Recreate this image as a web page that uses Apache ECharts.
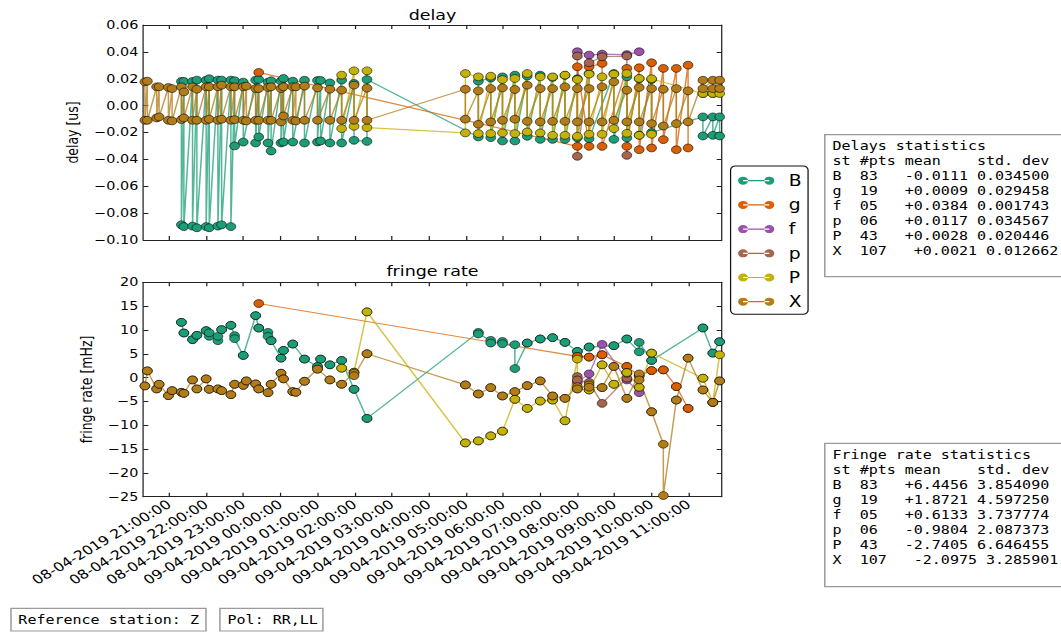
<!DOCTYPE html>
<html><head><meta charset="utf-8">
<script src="https://cdn.jsdelivr.net/npm/echarts@6/dist/echarts.min.js"></script>
<style>
html,body{margin:0;padding:0;background:#fff;overflow:hidden;}
#wrap{width:1061px;height:634px;overflow:hidden;position:relative;}
#chart{width:849px;height:634px;transform:scaleX(1.249706);transform-origin:0 0;}
</style></head><body><div id="wrap"><div id="chart"></div></div>
<script>
// ---------------- data (times HH:MM, 08-04-2019 evening -> 09-04-2019 morning) ----------------
const stationNames = ['B','g','f','p','P','X'];
const stationColors = ['#1b9e77','#d95f02','#9c52aa','#a6654f','#c4b208','#b27c18'];

const xTickValues = [21,22,23,24,25,26,27,28,29,30,31,32,33,34,35];
const xTickLabels = ['08-04-2019 21:00:00','08-04-2019 22:00:00','08-04-2019 23:00:00',
  '09-04-2019 00:00:00','09-04-2019 01:00:00','09-04-2019 02:00:00','09-04-2019 03:00:00',
  '09-04-2019 04:00:00','09-04-2019 05:00:00','09-04-2019 06:00:00','09-04-2019 07:00:00',
  '09-04-2019 08:00:00','09-04-2019 09:00:00','09-04-2019 10:00:00','09-04-2019 11:00:00'];
const X_MIN = 20.308, X_MAX = 35.889;

// B  (pol A / pol B, in plotting order)
const B_time = ['21:20','21:24','21:38','21:45','22:00','22:05','22:19','22:25','22:40','22:46','23:00','23:20','23:25','23:40','23:45','00:01','00:05','00:20','00:39','01:00','01:05','01:20','01:39','01:59','02:20','05:20','05:40','05:59','06:19','06:39','07:00','07:20','07:40','08:00','08:19','08:59','09:20','09:40','10:00','11:23','11:39','11:50'];
const B_delayA = [0.0180,0.0180,0.0180,0.0190,0.0189,0.0200,0.0190,0.0190,0.0190,0.0185,0.0175,0.0190,0.0195,0.0175,0.0185,0.0182,0.0202,0.0182,0.0189,0.0187,0.0187,0.0169,0.0190,0.0165,-0.0266,-0.0233,0.0205,0.0214,0.0227,0.0220,0.0227,0.0210,0.0225,0.0200,0.0239,0.0239,0.0214,0.0200,0.0194,-0.0084,-0.0084,-0.0084];
const B_delayB = [-0.0887,-0.0900,-0.0897,-0.0909,-0.0900,-0.0909,-0.0897,-0.0887,-0.0900,-0.0300,-0.0271,-0.0278,-0.0233,-0.0278,-0.0338,-0.0278,-0.0271,-0.0271,-0.0278,-0.0271,-0.0263,-0.0278,-0.0278,-0.0258,0.0194,0.0182,-0.0238,-0.0263,-0.0263,-0.0228,-0.0251,-0.0251,-0.0251,-0.0240,-0.0246,-0.0251,-0.0240,-0.0220,-0.0200,-0.0226,-0.0221,-0.0226];
const B_rateA = [11.60,9.36,7.96,8.87,9.85,8.66,7.74,10.06,10.98,8.80,4.65,13.00,10.40,9.50,7.74,4.09,5.70,7.04,3.88,2.33,3.88,2.68,3.59,-2.45,-8.57,9.50,7.81,7.60,6.90,7.25,8.10,8.38,7.39,5.49,6.41,6.69,8.10,5.42,3.59,10.42,5.14,7.53];
const B_rateB = [11.60,9.36,7.96,8.87,9.85,9.40,8.66,10.06,10.98,8.17,4.65,13.00,10.40,8.66,7.74,4.09,5.70,7.04,3.88,2.33,3.88,2.68,3.59,-2.45,-8.57,9.15,7.25,7.10,1.90,7.25,8.10,8.38,7.39,5.49,6.41,6.69,8.10,7.39,3.59,10.42,5.14,7.53];

// g
const g_time = ['23:25','08:00','08:19','08:40','09:20','09:40','10:00','10:19','10:40','10:59'];
const g_delayA = [0.0247,-0.0303,-0.0303,0.0314,0.0277,0.0282,0.0319,0.0277,0.0277,0.0301];
const g_delayB = [null,0.0289,0.0289,-0.0303,-0.0303,-0.0328,-0.0315,-0.0253,-0.0328,-0.0315];
const g_rateA = [15.55,4.44,4.30,4.79,2.33,0.36,1.48,1.62,-1.89,-6.46];
const g_rateB = [null,4.44,4.30,4.79,2.33,0.36,1.48,1.62,-1.89,-6.46];

// f
const f_time = ['08:00','08:19','08:40','09:20','09:40'];
const f_delay = [0.0401,0.0376,0.0383,0.0380,0.0401];
const f_rate = [-1.00,0.78,6.97,-0.50,-3.16];

// p
const p_time = ['08:00','08:19','08:40','09:20'];
const p_delayA = [0.0369,0.0319,0.0364,0.0369];
const p_delayB = [-0.0377,null,null,-0.0370];
const p_rateA = [0.22,-1.00,-5.41,-0.13];
const p_rateB = [-0.50,null,null,0.90];

// P
const P_time = ['01:39','01:59','02:20','04:59','05:20','05:40','05:59','06:19','06:39','07:00','07:20','07:40','08:00','08:19','08:40','08:59','09:20','09:40','10:00','11:23','11:39','11:50'];
const P_delayA = [0.0227,0.0259,0.0259,-0.0203,0.0214,0.0219,0.0194,0.0202,0.0239,0.0214,0.0214,0.0227,0.0194,0.0234,0.0214,0.0234,0.0239,0.0202,-0.0213,0.0090,0.0090,0.0090];
const P_delayB = [-0.0171,-0.0154,-0.0164,0.0239,-0.0208,-0.0208,-0.0203,-0.0208,-0.0196,-0.0203,-0.0221,-0.0221,-0.0228,-0.0213,-0.0213,-0.0171,-0.0206,-0.0221,0.0200,0.0090,0.0090,null];
const P_rateA = [1.98,1.13,13.79,-13.71,-13.29,-12.23,-11.25,-4.56,-6.46,-4.92,-4.71,-9.07,3.88,-2.60,2.68,-1.40,1.06,-2.03,5.14,-0.13,-5.20,4.79];
const P_rateB = [1.98,1.13,13.79,-13.71,-13.29,-12.23,-11.25,-4.56,-6.46,-4.92,-4.71,-9.07,-2.38,-2.60,2.68,-1.40,1.06,-2.03,5.14,-0.13,-5.20,null];

// X
const X_time = ['20:21','20:25','20:40','20:44','20:59','21:05','21:20','21:24','21:38','21:45','22:00','22:05','22:19','22:25','22:40','22:46','23:00','23:05','23:20','23:25','23:40','23:45','00:01','00:05','00:20','00:25','00:39','01:00','01:20','01:39','01:59','02:20','04:59','05:20','05:40','05:59','06:19','06:39','07:00','07:20','07:40','08:00','08:19','08:40','08:59','09:20','09:40','10:00','10:19','10:40','10:59','11:23','11:39','11:50'];
const X_delayA = [0.0177,0.0182,0.0140,0.0140,0.0135,0.0127,0.0140,0.0102,0.0140,0.0122,0.0140,0.0140,0.0140,0.0152,0.0140,0.0140,0.0140,0.0145,0.0127,0.0127,0.0135,0.0140,0.0127,0.0140,0.0140,0.0140,0.0145,0.0132,0.0122,0.0115,0.0152,0.0130,0.0122,0.0110,0.0127,0.0132,0.0120,0.0152,0.0127,0.0127,0.0140,0.0127,0.0127,0.0140,0.0177,0.0115,0.0135,0.0127,0.0122,0.0127,0.0110,0.0189,0.0189,0.0189];
const X_delayB = [-0.0109,-0.0109,-0.0092,-0.0084,-0.0109,-0.0114,-0.0104,-0.0092,-0.0109,-0.0109,-0.0109,-0.0101,-0.0109,-0.0101,-0.0109,-0.0104,-0.0109,-0.0114,-0.0109,-0.0109,-0.0109,-0.0109,-0.0121,-0.0077,-0.0109,-0.0114,-0.0109,-0.0109,-0.0109,-0.0109,-0.0109,-0.0109,-0.0101,-0.0139,-0.0121,-0.0109,-0.0101,-0.0117,-0.0121,-0.0117,-0.0117,-0.0121,-0.0121,-0.0121,-0.0109,-0.0121,-0.0121,-0.0134,-0.0152,-0.0134,-0.0121,0.0127,0.0127,0.0127];
const X_rateA = [-1.75,1.41,-2.38,-1.40,-3.79,-2.74,-3.09,-3.30,-0.49,-2.38,-0.27,-2.45,-2.38,-2.74,-3.59,-1.40,-1.63,-0.70,-1.33,-2.38,-3.16,-1.40,0.92,-0.27,-2.95,-3.09,-0.77,1.77,-0.49,-1.40,0.92,5.00,-1.54,-3.44,-2.10,-3.86,-2.95,-1.68,-0.70,-3.86,-4.35,-1.89,-1.54,-2.10,2.33,-4.35,0.78,-7.17,-13.99,-4.71,4.09,-2.60,-5.20,-0.70];
const X_rateB = [-1.75,1.41,-2.38,-1.40,-3.79,-2.74,-3.09,-3.30,-0.49,-2.38,-0.27,-2.45,-2.38,-2.74,-3.59,-1.40,-1.63,-0.70,-1.33,-2.38,-3.16,-1.40,0.92,-0.27,-2.95,-3.09,-0.77,1.77,-0.49,-1.40,0.40,5.00,-1.54,-3.44,-2.10,-3.86,-2.95,-1.68,-0.70,-3.86,-4.35,-2.38,-2.03,-2.10,2.33,-4.35,-0.49,-7.17,-24.75,-4.71,4.09,-2.60,-5.20,-0.70];

const delayStatsLines = ['Delays statistics','st #pts mean    std. dev','B  83   -0.0111 0.034500','g  19   +0.0009 0.029458','f  05   +0.0384 0.001743','p  06   +0.0117 0.034567','P  43   +0.0028 0.020446','X  107   +0.0021 0.012662'];
const rateStatsLines = ['Fringe rate statistics','st #pts mean    std. dev','B  83   +6.4456 3.854090','g  19   +1.8721 4.597250','f  05   +0.6133 3.737774','p  06   -0.9804 2.087373','P  43   -2.7405 6.646455','X  107   -2.0975 3.285901'];
const refStationText = 'Reference station: Z';
const polText = 'Pol: RR,LL';

// ---------------- build ----------------
function toHours(s){ const p=s.split(':').map(Number); return (p[0]>=12?p[0]:p[0]+24)+p[1]/60; }
function pts(times,a,b){ const out=[]; times.forEach((t,i)=>{ const h=toHours(t);
  if(a[i]!=null) out.push([h,a[i]]); if(b && b[i]!=null) out.push([h,b[i]]); }); return out; }

const stations = [
  {time:B_time,dA:B_delayA,dB:B_delayB,rA:B_rateA,rB:B_rateB},
  {time:g_time,dA:g_delayA,dB:g_delayB,rA:g_rateA,rB:g_rateB},
  {time:f_time,dA:f_delay,dB:null,rA:f_rate,rB:null},
  {time:p_time,dA:p_delayA,dB:p_delayB,rA:p_rateA,rB:p_rateB},
  {time:P_time,dA:P_delayA,dB:P_delayB,rA:P_rateA,rB:P_rateB},
  {time:X_time,dA:X_delayA,dB:X_delayB,rA:X_rateA,rB:X_rateB}
];

const FONT='DejaVu Sans', MONO='"DejaVu Sans Mono"', AX='#222';
const PL=114.7, PW=462.8;
const series=[];
stations.forEach((s,k)=>{
  const base = {name:stationNames[k], type:'line', symbol:'circle', symbolSize:7.8, showAllSymbol:true,
    color:stationColors[k],
    lineStyle:{color:stationColors[k], width:1.2, opacity:0.75},
    itemStyle:{color:stationColors[k], borderColor:'rgba(0,0,0,0.75)', borderWidth:0.7},
    emphasis:{disabled:true}, animation:false};
  series.push(Object.assign({}, base, {xAxisIndex:0, yAxisIndex:0, data:pts(s.time,s.dA,s.dB)}));
  series.push(Object.assign({}, base, {xAxisIndex:2, yAxisIndex:2, data:pts(s.time,s.rA,s.rB)}));
});

function xAx(grid,pos,labels){
  return {type:'value', gridIndex:grid, position:pos, min:X_MIN, max:X_MAX,
    axisLine:{show:true,onZero:false,lineStyle:{color:AX,width:1}},
    axisTick:{show:true,inside:true,length:4,customValues:xTickValues,lineStyle:{color:AX}},
    axisLabel: labels ? {show:true, customValues:xTickValues, rotate:36, margin:6, fontSize:12.6,
       fontFamily:FONT, color:'#000',
       formatter:(v)=>xTickLabels[xTickValues.indexOf(Math.round(v))]} : {show:false},
    splitLine:{show:false}};
}
function yAx(grid,pos,min,max,step,fmt,name,gap){
  return {type:'value', gridIndex:grid, position:pos, min:min, max:max, interval:step,
    name: name||'', nameLocation:'middle', nameGap:gap||0,
    nameTextStyle:{fontSize:12.5, fontFamily:FONT, color:'#000'},
    axisLine:{show:true,onZero:false,lineStyle:{color:AX,width:1}},
    axisTick:{show:true,inside:true,length:4,lineStyle:{color:AX}},
    axisLabel: fmt ? {show:true, margin:4, fontSize:11.5, fontFamily:FONT, color:'#000', formatter:fmt} : {show:false},
    splitLine:{show:false}};
}
const fmtDelay = v => (v < -1e-9 ? '\u2212' : '') + Math.abs(v).toFixed(2);
const fmtRate = v => (v < -1e-9 ? '\u2212' : '') + Math.abs(Math.round(v));

const legendIcon = 'path://M0,4a4,4 0 1,0 8,0a4,4 0 1,0 -8,0M21,4a4,4 0 1,0 8,0a4,4 0 1,0 -8,0M4,3.4h21v1.2h-21z';

const option = {
  animation:false,
  backgroundColor:'#fff',
  title:[
    {text:'delay', left:PL+PW/2, top:8, textAlign:'center', padding:0,
     textStyle:{fontSize:14, fontWeight:'normal', fontFamily:FONT, color:'#000'}},
    {text:'fringe rate', left:PL+PW/2, top:264, textAlign:'center', padding:0,
     textStyle:{fontSize:14, fontWeight:'normal', fontFamily:FONT, color:'#000'}}
  ],
  grid:[
    {left:PL, top:25, width:PW, height:215, containLabel:false},
    {left:PL, top:282.3, width:PW, height:214.4, containLabel:false}
  ],
  xAxis:[ xAx(0,'bottom',false), xAx(0,'top',false), xAx(1,'bottom',true), xAx(1,'top',false) ],
  yAxis:[
    yAx(0,'left',-0.10,0.06,0.02,fmtDelay,'delay [us]',40),
    yAx(0,'right',-0.10,0.06,0.02,null),
    yAx(1,'left',-25,20,5,fmtRate,'fringe rate [mHz]',23.5),
    yAx(1,'right',-25,20,5,null)
  ],
  legend:{orient:'vertical', left:590.6, top:173.2, padding:0, itemGap:9.2,
    itemWidth:29, itemHeight:8, icon:legendIcon,
    itemStyle:{borderWidth:0}, data:stationNames,
    textStyle:{fontSize:15, fontFamily:FONT, color:'#000', padding:[0,0,0,6.6]}},
  graphic:[
    {type:'rect', z:-1, shape:{x:584.6,y:166,width:62,height:148.3,r:4}, style:{fill:'none',stroke:'#111',lineWidth:1}},
    {type:'rect', shape:{x:660,y:134.7,width:220,height:142}, style:{fill:'#fff',stroke:'#9a9a9a',lineWidth:1.2}},
    {type:'text', x:666.2, y:138.5, style:{text:delayStatsLines.join('\n'), font:'12px '+MONO, fill:'#000', lineHeight:15, verticalAlign:'top'}},
    {type:'rect', shape:{x:660,y:443.3,width:220,height:143.4}, style:{fill:'#fff',stroke:'#9a9a9a',lineWidth:1.2}},
    {type:'text', x:666.2, y:447.5, style:{text:rateStatsLines.join('\n'), font:'12px '+MONO, fill:'#000', lineHeight:15, verticalAlign:'top'}},
    {type:'rect', shape:{x:8.8,y:608.3,width:156,height:22.7}, style:{fill:'#fff',stroke:'#9a9a9a',lineWidth:1.2}},
    {type:'text', x:14.7, y:620, style:{text:refStationText, font:'12px '+MONO, fill:'#000', verticalAlign:'middle'}},
    {type:'rect', shape:{x:176,y:608.3,width:82.4,height:22.7}, style:{fill:'#fff',stroke:'#9a9a9a',lineWidth:1.2}},
    {type:'text', x:182.1, y:620, style:{text:polText, font:'12px '+MONO, fill:'#000', verticalAlign:'middle'}}
  ],
  series:series
};

const chart = echarts.init(document.getElementById('chart'), null, {renderer:'svg'});
chart.setOption(option);
</script></body></html>
